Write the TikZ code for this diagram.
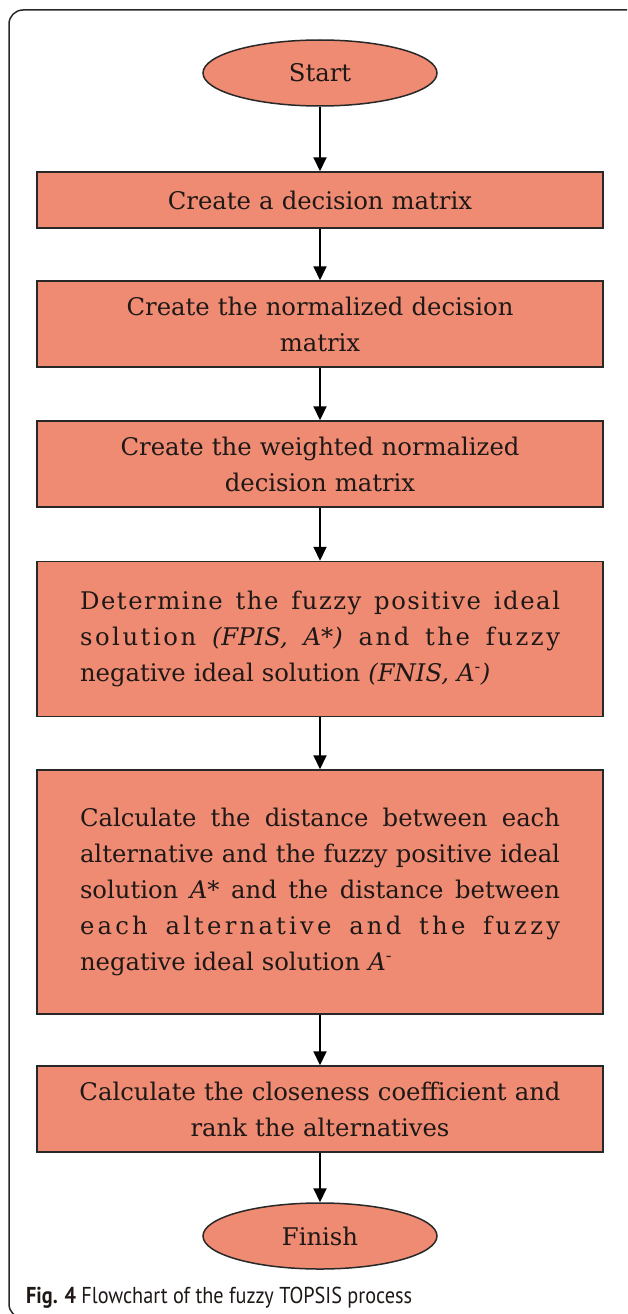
\documentclass[tikz,border=0pt]{standalone}
\usepackage{fontspec}
\setmainfont{DejaVu Serif}
\newfontfamily\capfont[FakeStretch=0.88]{PT Sans}
\usetikzlibrary{shapes.geometric,arrows.meta}
\definecolor{boxfill}{RGB}{239,139,115}
\definecolor{edgecol}{RGB}{40,40,40}
\definecolor{txtcol}{RGB}{30,24,22}
\newcommand\jl[1]{\leavevmode\hbox to 480pt{#1}}
\begin{document}
\begin{tikzpicture}[x=1pt,y=-1pt,
  stepbox/.style={draw=edgecol, line width=1.5pt, fill=boxfill, minimum width=566pt,
    inner sep=0pt, text width=480pt, font=\fontsize{24.3}{36}\selectfont, text=txtcol},
  term/.style={ellipse, draw=edgecol, line width=1.5pt, fill=boxfill, minimum width=234pt,
    minimum height=66pt, inner sep=0pt, font=\fontsize{24.3}{36}\selectfont, text=txtcol},
  flow/.style={line width=2pt, draw=black, -{Triangle[length=14pt,width=13pt]}}]
\useasboundingbox (0,0) rectangle (627,1314);
\fill[white] (0,0) rectangle (627,1314);
\begin{scope}
\clip (0,0) rectangle (627,1314);
\draw[edgecol, line width=1.5pt, rounded corners=14pt] (9,10) rectangle (700,1318);
\end{scope}

\node[term] (start) at (320,73) {Start};
\node[stepbox, minimum height=56pt, align=center] (b1) at (320,200) {Create a decision matrix};
\node[stepbox, minimum height=86pt, align=center] (b2) at (320,324) {Create the normalized decision\\matrix};
\node[stepbox, minimum height=86pt, align=center] (b3) at (320,464) {Create the weighted normalized\\decision matrix};
\node[stepbox, minimum height=155pt, align=left] (b4) at (320,639) {%
\jl{D\hfill e\hfill t\hfill e\hfill r\hfill m\hfill i\hfill n\hfill e \hfill\hfill\hfill t\hfill h\hfill e \hfill\hfill\hfill f\hfill u\hfill z\hfill z\hfill y \hfill\hfill\hfill p\hfill o\hfill s\hfill i\hfill t\hfill i\hfill v\hfill e \hfill\hfill\hfill i\hfill d\hfill e\hfill a\hfill l}\\
\jl{s\hfill o\hfill l\hfill u\hfill t\hfill i\hfill o\hfill n \hfill\hfill\hfill \textit{(FPIS,} \hfill\hfill\hfill \textit{A*)} \hfill\hfill\hfill a\hfill n\hfill d \hfill\hfill\hfill t\hfill h\hfill e \hfill\hfill\hfill f\hfill u\hfill z\hfill z\hfill y}\\
negative ideal solution \textit{(FNIS, A}\textsuperscript{-}\textit{)}};
\node[stepbox, minimum height=244pt, align=left] (b5) at (320,892) {%
\jl{Calculate \hfill the \hfill distance \hfill between \hfill each}\\
\jl{alternative \hfill and \hfill the \hfill fuzzy \hfill positive \hfill ideal}\\
\jl{solution \hfill \textit{A}* \hfill and \hfill the \hfill distance \hfill between}\\
\jl{e\hfill a\hfill c\hfill h \hfill\hfill\hfill a\hfill l\hfill t\hfill e\hfill r\hfill n\hfill a\hfill t\hfill i\hfill v\hfill e \hfill\hfill\hfill a\hfill n\hfill d \hfill\hfill\hfill t\hfill h\hfill e \hfill\hfill\hfill f\hfill u\hfill z\hfill z\hfill y}\\
negative ideal solution \textit{A}\textsuperscript{-}};
\node[stepbox, minimum height=86pt, align=center, text width=530pt] (b6) at (320,1109) {Calculate the closeness coefficient and\\rank the alternatives};
\node[term] (finish) at (320,1236) {Finish};

\draw[flow] (start) -- (b1);
\draw[flow] (b1) -- (b2);
\draw[flow] (b2) -- (b3);
\draw[flow] (b3) -- (b4);
\draw[flow] (b4) -- (b5);
\draw[flow] (b5) -- (b6);
\draw[flow] (b6) -- (finish);

\node[anchor=base west, inner sep=0pt, text=txtcol, font=\capfont\fontsize{23}{26}\selectfont] (cap) at (26,1303)
  {\textbf{Fig. 4} Flowchart of the fuzzy TOPSIS process};
\end{tikzpicture}
\end{document}
